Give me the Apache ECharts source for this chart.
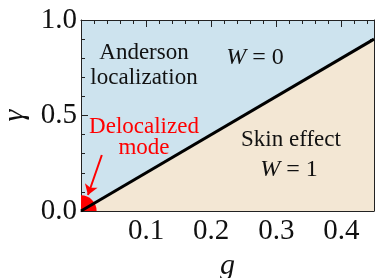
<!DOCTYPE html>
<html>
<head>
<meta charset="utf-8">
<script src="https://cdn.jsdelivr.net/npm/echarts@6/dist/echarts.min.js"></script>
<style>
  html, body { margin: 0; padding: 0; background: #fff; }
  #chart { width: 375px; height: 278px; }
</style>
</head>
<body>
<div id="chart"></div>
<script>
// phase boundary gamma = 2g
const boundaryG = [0, 0.45];
const boundaryGamma = [0, 0.9];
// delocalized mode marker at the origin
const dotG = [0];
const dotGamma = [0];
const dotRadius = 0.024; // in g units
// arrow pointing at the delocalized mode
const arrowFrom = [0.032, 0.293];
const arrowTo = [0.0107, 0.084];
// tick labels
const xLabels = [0.1, 0.2, 0.3, 0.4];
const yLabels = [0, 0.5, 1];

const serif = "Liberation Serif";
const blue = "#cde3ee";
const beige = "#f3e7d4";

const chart = echarts.init(document.getElementById("chart"));

const near = (v, list) => list.some((t) => Math.abs(t - v) < 1e-6);

const axisCommon = {
  axisLine: { show: true, onZero: false, lineStyle: { color: "#222", width: 1 } },
  axisTick: { show: true, inside: true, length: 7, lineStyle: { color: "#222", width: 1 } },
  minorTick: { show: true, splitNumber: 5, length: 4, lineStyle: { color: "#222", width: 1 } },
  splitLine: { show: false },
};

const mathText = (txt, x, y) => ({
  type: "text",
  x: x,
  y: y,
  z: 100,
  style: {
    text: txt,
    fontFamily: serif,
    fontSize: 24,
    fill: "#111",
    align: "center",
    verticalAlign: "middle",
    rich: { i: { fontFamily: serif, fontStyle: "italic", fontSize: 24, fill: "#111" } },
  },
});

chart.setOption({
  animation: false,
  grid: {
    left: 81,
    right: 1,
    top: 20,
    bottom: 67,
    outerBoundsMode: "none",
    containLabel: false,
    show: true,
    backgroundColor: blue,
    borderWidth: 0,
  },
  xAxis: [
    Object.assign({}, axisCommon, {
      type: "value",
      min: 0,
      max: 0.45,
      interval: 0.1,
      position: "bottom",
      name: "g",
      nameLocation: "middle",
      nameGap: 33,
      nameTextStyle: { fontFamily: serif, fontStyle: "italic", fontSize: 30, color: "#111" },
      axisLabel: {
        margin: 6,
        fontFamily: serif,
        fontSize: 29,
        color: "#111",
        formatter: (v) => (near(v, xLabels) ? v.toFixed(1) : ""),
      },
    }),
    Object.assign({}, axisCommon, {
      type: "value",
      min: 0,
      max: 0.45,
      interval: 0.1,
      position: "top",
      axisLabel: { show: false },
    }),
  ],
  yAxis: [
    Object.assign({}, axisCommon, {
      type: "value",
      min: 0,
      max: 1,
      interval: 0.5,
      position: "left",
      name: "γ",
      nameLocation: "middle",
      nameGap: 50,
      nameTextStyle: { fontFamily: serif, fontStyle: "italic", fontSize: 30, color: "#111" },
      axisLabel: {
        margin: 4,
        fontFamily: serif,
        fontSize: 29,
        color: "#111",
        formatter: (v) => (near(v, yLabels) ? v.toFixed(1) : ""),
      },
    }),
    Object.assign({}, axisCommon, {
      type: "value",
      min: 0,
      max: 1,
      interval: 0.5,
      position: "right",
      axisLabel: { show: false },
    }),
  ],
  series: [
    {
      // skin effect region below the boundary
      type: "line",
      data: boundaryG.map((g, i) => [g, boundaryGamma[i]]),
      symbol: "none",
      lineStyle: { width: 0 },
      areaStyle: { color: beige, opacity: 1 },
      z: 1,
    },
    {
      type: "custom",
      data: dotG.map((g, i) => [g, dotGamma[i]]),
      renderItem: (params, api) => {
        const p = api.coord([api.value(0), api.value(1)]);
        const r = api.size([dotRadius, 0])[0];
        return {
          type: "sector",
          shape: { cx: p[0], cy: p[1], r0: 0, r: r, startAngle: -Math.PI / 2, endAngle: 0 },
          style: { fill: "#ff0000" },
        };
      },
      clip: false,
      z: 2,
    },
    {
      type: "line",
      data: boundaryG.map((g, i) => [g, boundaryGamma[i]]),
      symbol: "none",
      lineStyle: { color: "#000", width: 3 },
      z: 3,
    },
    {
      type: "lines",
      coordinateSystem: "cartesian2d",
      data: [{ coords: [arrowFrom, arrowTo] }],
      symbol: ["none", "arrow"],
      symbolSize: 10,
      lineStyle: { color: "#ff0000", width: 2, opacity: 1 },
      z: 4,
    },
  ],
  graphic: [
    {
      type: "text",
      x: 144,
      y: 65,
      z: 100,
      style: {
        text: "Anderson\nlocalization",
        fontFamily: serif,
        fontSize: 23,
        lineHeight: 25,
        fill: "#111",
        align: "center",
        verticalAlign: "middle",
      },
    },
    mathText("{i|W} = 0", 255, 58),
    {
      type: "text",
      x: 144,
      y: 137,
      z: 100,
      style: {
        text: "Delocalized\nmode",
        fontFamily: serif,
        fontSize: 23,
        lineHeight: 21,
        fill: "#ff0000",
        align: "center",
        verticalAlign: "middle",
      },
    },
    {
      type: "text",
      x: 291,
      y: 140,
      z: 100,
      style: {
        text: "Skin effect",
        fontFamily: serif,
        fontSize: 23,
        fill: "#111",
        align: "center",
        verticalAlign: "middle",
      },
    },
    mathText("{i|W} = 1", 289, 170),
  ],
});
</script>
</body>
</html>
